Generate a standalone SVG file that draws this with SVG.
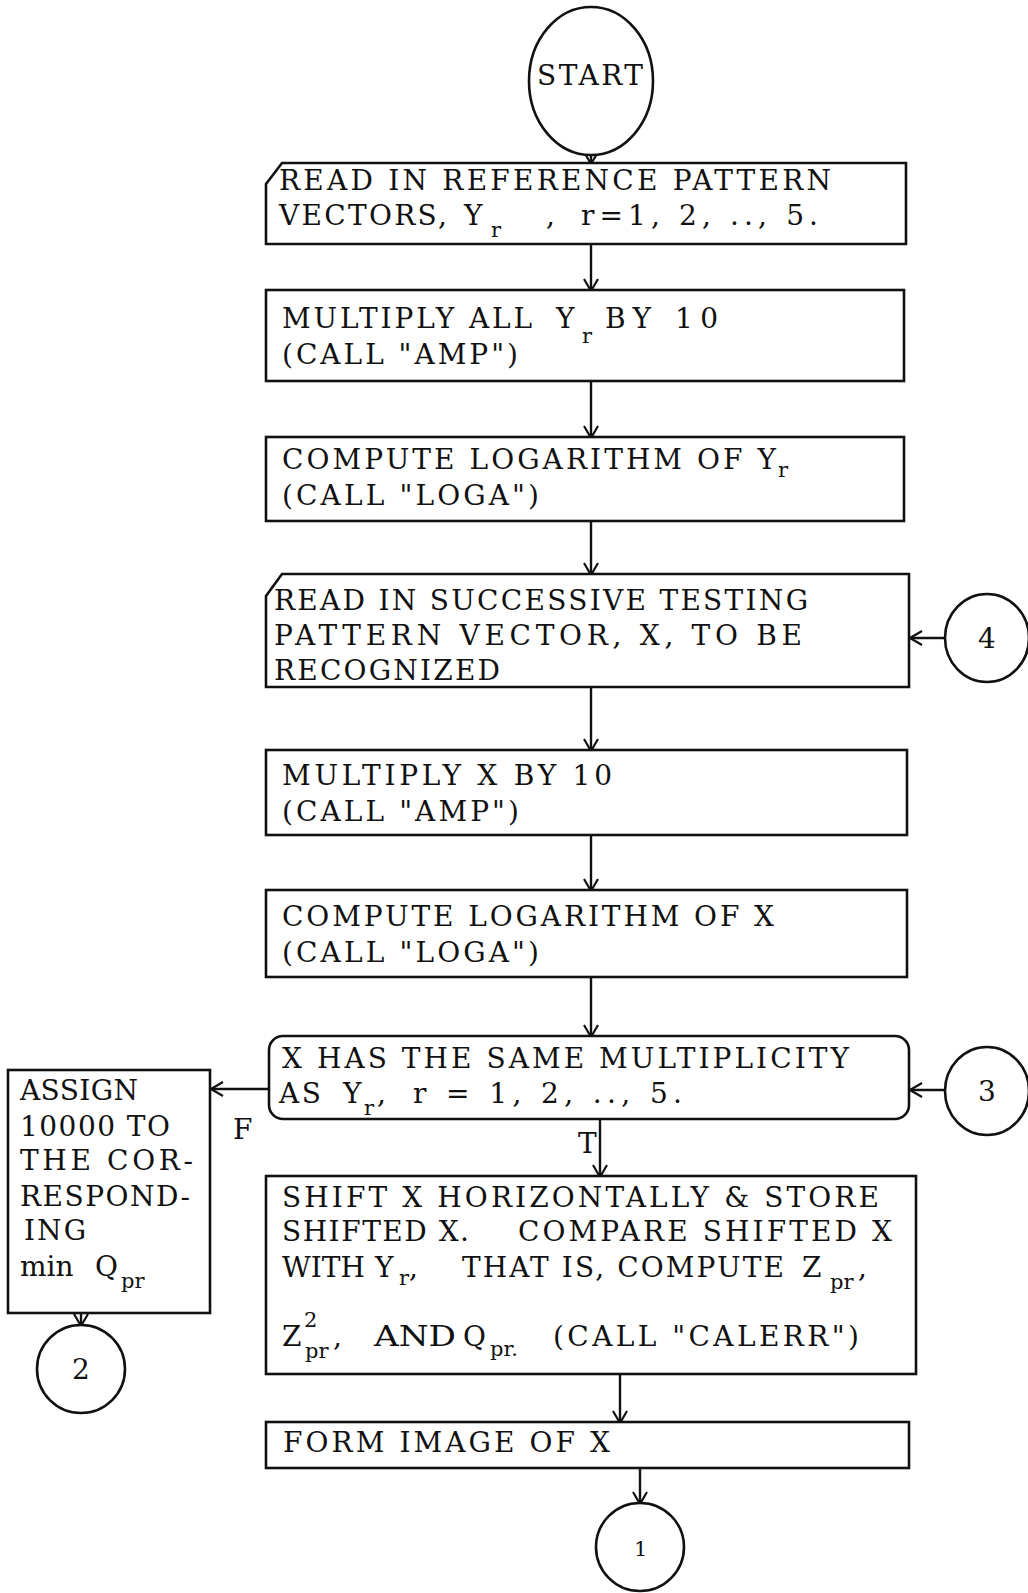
<svg xmlns="http://www.w3.org/2000/svg" width="1028" height="1593" viewBox="0 0 1028 1593">
  <defs>
    <marker id="arr" viewBox="0 0 14 16" refX="13" refY="8" markerWidth="14" markerHeight="16" markerUnits="userSpaceOnUse" orient="auto">
      <path d="M1,1 L13,8 L1,15" fill="none" stroke="#111" stroke-width="2.2"/>
    </marker>
  </defs>
  <style>
    .shape { fill: #fff; stroke: #111; stroke-width: 2.6; }
    .edge { fill: none; stroke: #111; stroke-width: 2.4; marker-end: url(#arr); }
    text { font-family: "DejaVu Serif", "Liberation Serif", serif; font-size: 28px; fill: #111; }
    .sub { font-size: 21px; }
    .small { font-size: 21px; }
  </style>
  <rect width="1028" height="1593" fill="#fff"/>

  <!-- connectors -->
  <g id="connectors">
    <line class="edge" x1="591" y1="155" x2="591" y2="164"/>
    <line class="edge" x1="591" y1="244" x2="591" y2="291"/>
    <line class="edge" x1="591" y1="381" x2="591" y2="438"/>
    <line class="edge" x1="591" y1="521" x2="591" y2="575"/>
    <line class="edge" x1="945" y1="638" x2="910" y2="638"/>
    <line class="edge" x1="591" y1="687" x2="591" y2="751"/>
    <line class="edge" x1="591" y1="835" x2="591" y2="891"/>
    <line class="edge" x1="591" y1="977" x2="591" y2="1037"/>
    <line class="edge" x1="945" y1="1090" x2="910" y2="1090"/>
    <line class="edge" x1="270" y1="1089" x2="211" y2="1089"/>
    <line class="edge" x1="600" y1="1119" x2="600" y2="1177"/>
    <line class="edge" x1="620" y1="1374" x2="620" y2="1423"/>
    <line class="edge" x1="640" y1="1468" x2="640" y2="1504"/>
    <line class="edge" x1="81" y1="1313" x2="81" y2="1326"/>
    <text x="233" y="1139">F</text>
    <text x="578" y="1153">T</text>
  </g>

  <!-- terminal -->
  <g id="start">
    <ellipse class="shape" cx="591" cy="81" rx="62" ry="74"/>
    <text x="537" y="85" textLength="106" lengthAdjust="spacing">START</text>
  </g>

  <!-- input: reference patterns -->
  <g id="read-reference">
    <path class="shape" d="M266,184 L282,163 L906,163 L906,244 L266,244 Z"/>
    <text x="279" y="190" textLength="552" lengthAdjust="spacing">READ IN REFERENCE PATTERN</text>
    <text x="279" y="225" textLength="168" lengthAdjust="spacing">VECTORS,</text>
    <text x="464" y="225">Y</text>
    <text class="sub" x="491" y="237">r</text>
    <text x="546" y="225">,</text>
    <text x="581" y="225" textLength="237" lengthAdjust="spacing">r=1, 2, .., 5.</text>
  </g>

  <g id="amp-reference">
    <rect class="shape" x="266" y="290" width="638" height="91"/>
    <text x="282" y="328" textLength="250" lengthAdjust="spacing">MULTIPLY ALL</text>
    <text x="556" y="328">Y</text>
    <text class="sub" x="582" y="343">r</text>
    <text x="605" y="328" textLength="113" lengthAdjust="spacing">BY 10</text>
    <text x="282" y="364" textLength="236" lengthAdjust="spacing">(CALL "AMP")</text>
  </g>

  <g id="log-reference">
    <rect class="shape" x="266" y="437" width="638" height="84"/>
    <text x="282" y="469" textLength="494" lengthAdjust="spacing">COMPUTE LOGARITHM OF Y</text>
    <text class="sub" x="778" y="477">r</text>
    <text x="282" y="505" textLength="257" lengthAdjust="spacing">(CALL "LOGA")</text>
  </g>

  <!-- input: testing pattern -->
  <g id="read-testing">
    <path class="shape" d="M266,596 L282,574 L909,574 L909,687 L266,687 Z"/>
    <text x="274" y="610" textLength="534" lengthAdjust="spacing">READ IN SUCCESSIVE TESTING</text>
    <text x="274" y="645" textLength="528" lengthAdjust="spacing">PATTERN VECTOR, X, TO BE</text>
    <text x="274" y="680" textLength="226" lengthAdjust="spacing">RECOGNIZED</text>
  </g>

  <g id="connector-4">
    <ellipse class="shape" cx="987" cy="638" rx="42" ry="44"/>
    <text x="978" y="648">4</text>
  </g>

  <g id="amp-testing">
    <rect class="shape" x="266" y="750" width="641" height="85"/>
    <text x="282" y="785" textLength="330" lengthAdjust="spacing">MULTIPLY X BY 10</text>
    <text x="282" y="821" textLength="237" lengthAdjust="spacing">(CALL "AMP")</text>
  </g>

  <g id="log-testing">
    <rect class="shape" x="266" y="890" width="641" height="87"/>
    <text x="282" y="926" textLength="492" lengthAdjust="spacing">COMPUTE LOGARITHM OF X</text>
    <text x="282" y="962" textLength="257" lengthAdjust="spacing">(CALL "LOGA")</text>
  </g>

  <!-- decision -->
  <g id="multiplicity-test">
    <rect class="shape" x="269" y="1036" width="640" height="83" rx="14" ry="14"/>
    <text x="282" y="1068" textLength="567" lengthAdjust="spacing">X HAS THE SAME MULTIPLICITY</text>
    <text x="279" y="1103" textLength="42" lengthAdjust="spacing">AS</text>
    <text x="343" y="1103">Y</text>
    <text class="sub" x="364" y="1115">r</text>
    <text x="377" y="1103">,</text>
    <text x="413" y="1103" textLength="269" lengthAdjust="spacing">r = 1, 2, .., 5.</text>
  </g>

  <g id="connector-3">
    <ellipse class="shape" cx="987" cy="1091" rx="42" ry="44"/>
    <text x="978" y="1101">3</text>
  </g>

  <g id="assign">
    <rect class="shape" x="8" y="1070" width="202" height="243"/>
    <text x="20" y="1100" textLength="118" lengthAdjust="spacing">ASSIGN</text>
    <text x="20" y="1136" textLength="150" lengthAdjust="spacing">10000 TO</text>
    <text x="20" y="1170" textLength="173" lengthAdjust="spacing">THE COR-</text>
    <text x="20" y="1206" textLength="170" lengthAdjust="spacing">RESPOND-</text>
    <text x="24" y="1240" textLength="62" lengthAdjust="spacing">ING</text>
    <text x="20" y="1276">min</text>
    <text x="95" y="1276">Q</text>
    <text class="sub" x="121" y="1288">pr</text>
  </g>

  <g id="connector-2">
    <ellipse class="shape" cx="81" cy="1369" rx="44" ry="44"/>
    <text x="72" y="1379">2</text>
  </g>

  <g id="shift-compare">
    <rect class="shape" x="266" y="1176" width="650" height="198"/>
    <text x="282" y="1207" textLength="597" lengthAdjust="spacing">SHIFT X HORIZONTALLY &amp; STORE</text>
    <text x="282" y="1241" textLength="187" lengthAdjust="spacing">SHIFTED X.</text>
    <text x="518" y="1241" textLength="374" lengthAdjust="spacing">COMPARE SHIFTED X</text>
    <text x="282" y="1277">WITH</text>
    <text x="375" y="1277">Y</text>
    <text class="sub" x="399" y="1285">r</text>
    <text x="409" y="1277">,</text>
    <text x="462" y="1277" textLength="322" lengthAdjust="spacing">THAT IS, COMPUTE</text>
    <text x="802" y="1277">Z</text>
    <text class="sub" x="830" y="1289">pr</text>
    <text x="858" y="1277">,</text>
    <text x="282" y="1346">Z</text>
    <text class="sub" x="304" y="1327">2</text>
    <text class="sub" x="305" y="1358">pr</text>
    <text x="333" y="1346">,</text>
    <text x="374" y="1346" textLength="82" lengthAdjust="spacingAndGlyphs">AND</text>
    <text x="463" y="1346">Q</text>
    <text class="sub" x="490" y="1356">pr.</text>
    <text x="553" y="1346" textLength="306" lengthAdjust="spacing">(CALL "CALERR")</text>
  </g>

  <g id="form-image">
    <rect class="shape" x="266" y="1422" width="643" height="46"/>
    <text x="283" y="1452" textLength="327" lengthAdjust="spacing">FORM IMAGE OF X</text>
  </g>

  <g id="connector-1">
    <ellipse class="shape" cx="640" cy="1547" rx="44" ry="44"/>
    <text class="small" x="634" y="1556">1</text>
  </g>
</svg>
